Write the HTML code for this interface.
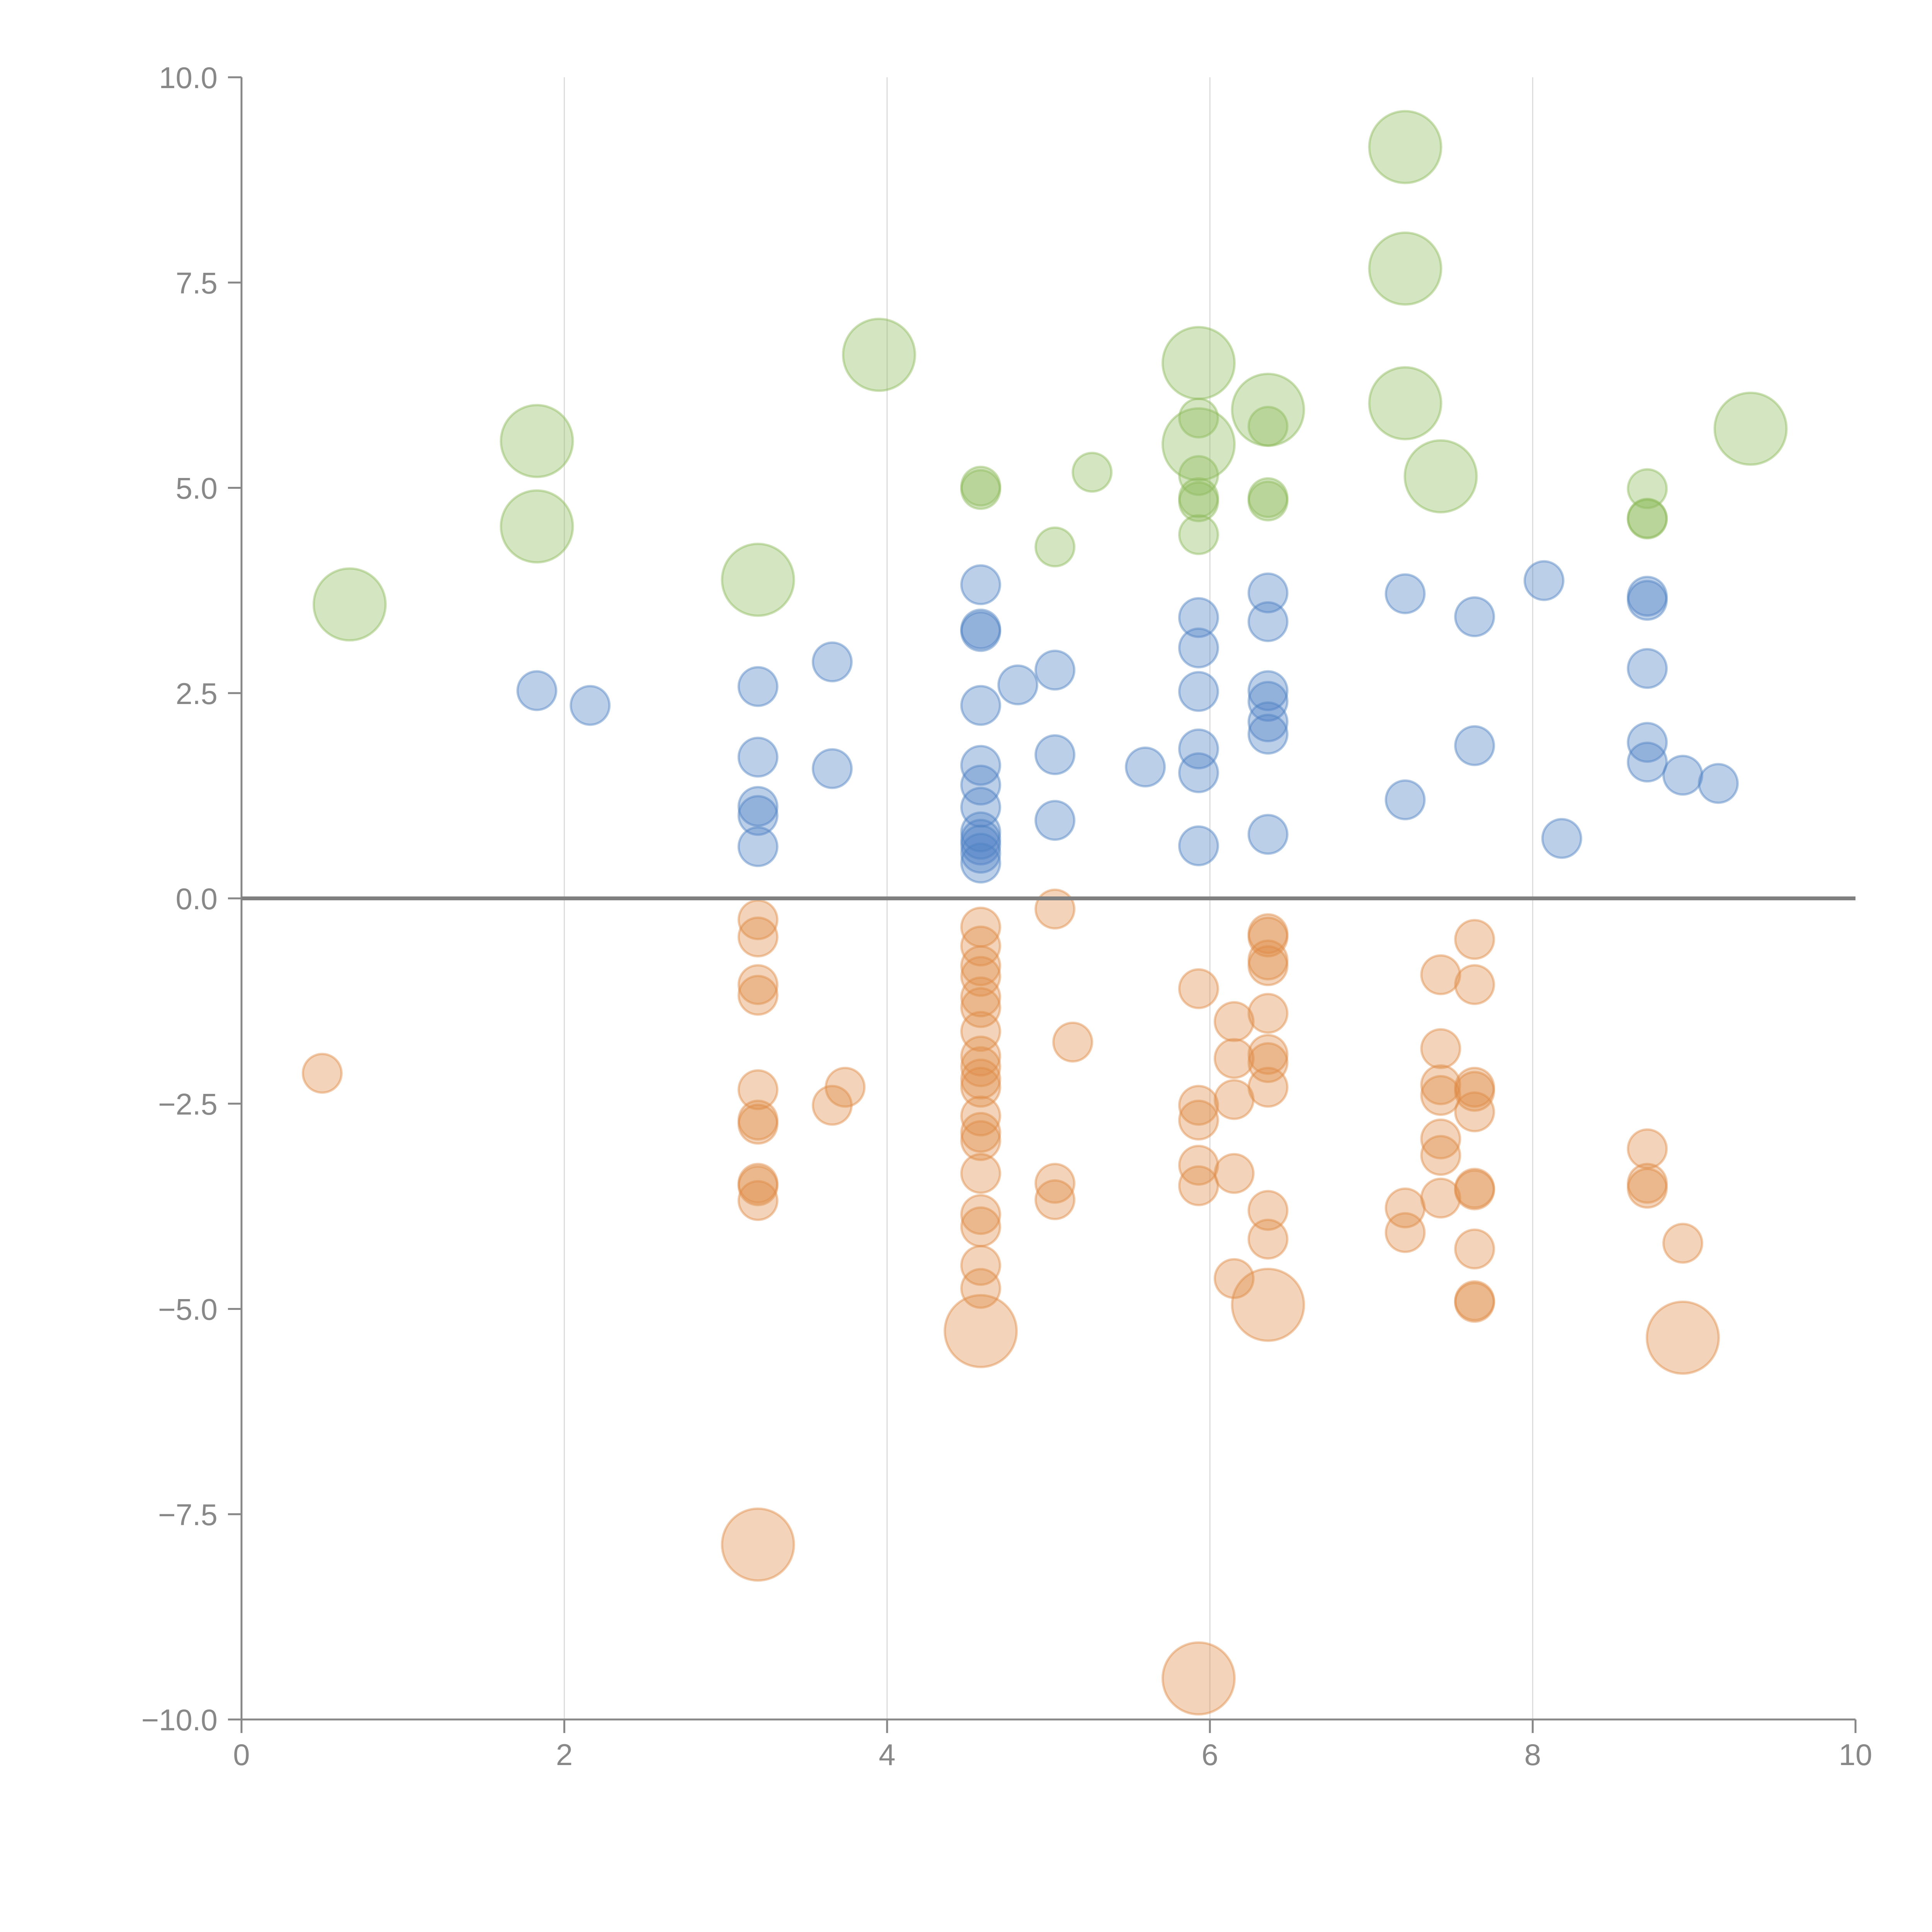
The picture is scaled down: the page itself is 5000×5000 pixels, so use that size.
<!DOCTYPE html>
<html><head><meta charset="utf-8"><style>
html,body{margin:0;padding:0;background:#fff;}
svg{display:block;}
text{font-family:"Liberation Sans",sans-serif;fill:#888;font-size:78px;}
</style></head><body>
<svg id="chart" width="5000" height="5000" viewBox="0 0 5000 5000" xmlns="http://www.w3.org/2000/svg">
<g id="grid"></g>
<g id="axes"></g>
<g id="marks"></g>
</svg>
<script>
const xTicks = [0, 2, 4, 6, 8, 10];
const yTicks = [10, 7.5, 5, 2.5, 0, -2.5, -5, -7.5, -10];
const yTickLabels = ["10.0", "7.5", "5.0", "2.5", "0.0", "\u22122.5", "\u22125.0", "\u22127.5", "\u221210.0"];

const greenX = [0.67,1.83,1.83,3.2,3.95,5.93,5.93,6.36,7.21,7.21,7.21,7.43,9.35, 4.58,4.58,5.04,5.27,5.93,5.93,5.93,5.93,5.93,6.36,6.36,6.36,8.71,8.71,8.71];
const greenY = [3.58,5.57,4.53,3.88,6.62,6.52,5.53,5.95,9.15,7.67,6.03,5.14,5.72, 5.02,4.98,4.28,5.19,5.85,5.15,4.88,4.83,4.43,5.75,4.88,4.84,4.99,4.63,4.62];
const greenSize = [2,2,2,2,2,2,2,2,2,2,2,2,2, 1,1,1,1,1,1,1,1,1,1,1,1,1,1,1];

const blueX = [1.83,2.16,3.2,3.2,3.2,3.2,3.2,3.66,3.66,4.58,4.58,4.58,4.58,4.58,4.58,4.58,4.58,4.58,4.58,4.58,4.58,4.81,5.04,5.04,5.04,5.6,5.93,5.93,5.93,5.93,5.93,5.93,6.36,6.36,6.36,6.36,6.36,6.36,6.36,7.21,7.21,7.64,7.64,8.07,8.18,8.71,8.71,8.71,8.71,8.71,8.93,9.15];
const blueY = [2.53,2.35,2.58,1.72,1.12,1.01,0.63,2.88,1.58,3.82,3.28,3.25,2.35,1.62,1.38,1.11,0.81,0.72,0.65,0.55,0.43,2.6,2.78,1.75,0.95,1.6,3.42,3.05,2.52,1.82,1.53,0.64,3.72,3.37,2.53,2.4,2.15,2.0,0.78,3.71,1.2,3.43,1.86,3.87,0.73,3.68,3.63,2.8,1.9,1.66,1.5,1.4];

const orangeX = [0.5,3.2,3.2,3.2,3.2,3.2,3.2,3.2,3.2,3.2,3.2,3.66,3.74,4.58,4.58,4.58,4.58,4.58,4.58,4.58,4.58,4.58,4.58,4.58,4.58,4.58,4.58,4.58,4.58,4.58,4.58,4.58,5.04,5.04,5.04,5.15,5.93,5.93,5.93,5.93,5.93,6.15,6.15,6.15,6.15,6.15,6.36,6.36,6.36,6.36,6.36,6.36,6.36,6.36,6.36,6.36,7.21,7.21,7.43,7.43,7.43,7.43,7.43,7.43,7.43,7.64,7.64,7.64,7.64,7.64,7.64,7.64,7.64,7.64,7.64,8.71,8.71,8.71,8.93, 3.2,4.58,5.93,6.36,8.93];
const orangeY = [-2.13,-0.26,-0.47,-1.05,-1.18,-2.33,-2.7,-2.75,-3.47,-3.5,-3.68,-2.52,-2.3,-0.35,-0.58,-0.82,-0.95,-1.2,-1.33,-1.62,-1.92,-2.05,-2.2,-2.3,-2.65,-2.85,-2.95,-3.35,-3.85,-4.0,-4.47,-4.75,-0.13,-3.47,-3.67,-1.75,-1.1,-2.52,-2.7,-3.25,-3.5,-1.5,-1.95,-2.45,-3.35,-4.63,-0.43,-0.47,-0.75,-0.82,-1.4,-1.9,-2.0,-2.3,-3.8,-4.15,-3.77,-4.07,-0.93,-1.83,-2.27,-2.4,-2.93,-3.13,-3.65,-0.5,-1.05,-2.3,-2.35,-2.6,-3.53,-3.55,-4.27,-4.9,-4.92,-3.05,-3.47,-3.53,-4.2, -7.87,-5.27,-9.5,-4.95,-5.35];
const orangeSize = orangeY.map((v, i) => i >= orangeY.length - 5 ? 2 : 1);

const X0 = 625, X1 = 4802, Y0 = 4450, Y1 = 200;
function sx(v){ return X0 + (v - 0) / 10 * (X1 - X0); }
function sy(v){ return Y0 - (v + 10) / 20 * (Y0 - Y1); }
function rad(s){ return s === 2 ? 93 : 50; }
const NS = "http://www.w3.org/2000/svg";
function mk(tag, attrs, parent){ const e = document.createElementNS(NS, tag); for (const k in attrs) e.setAttribute(k, attrs[k]); parent.appendChild(e); return e; }

const grid = document.getElementById('grid');
const axes = document.getElementById('axes');
const marks = document.getElementById('marks');

xTicks.forEach(t => {
  if (t > 0 && t < 10) {
    const g = mk('line', {x1: sx(t), x2: sx(t), y1: Y1, y2: Y0, stroke: '#dcdcdc', 'stroke-width': 3}, grid);
    
    
  }
  const tk = mk('line', {x1: sx(t), x2: sx(t), y1: Y0, y2: Y0 + 35, stroke: '#888', 'stroke-width': 5}, axes);
  
  
  const lb = mk('text', {x: sx(t), y: Y0 + 118, 'text-anchor': 'middle'}, axes);
  lb.textContent = String(t);
  
  
});
yTicks.forEach((t, i) => {
  const tk = mk('line', {x1: X0 - 35, x2: X0, y1: sy(t), y2: sy(t), stroke: '#888', 'stroke-width': 5}, axes);
  
  
  const lb = mk('text', {x: X0 - 62, y: sy(t) + 28, 'text-anchor': 'end'}, axes);
  lb.textContent = yTickLabels[i];
  
  
});
const ya = mk('line', {x1: X0, x2: X0, y1: Y1, y2: Y0, stroke: '#888', 'stroke-width': 5}, axes);


const xa = mk('line', {x1: X0, x2: X1, y1: Y0, y2: Y0, stroke: '#888', 'stroke-width': 5}, axes);



function series(xs, ys, sizes, color, name){
  xs.forEach((x, i) => {
    const s = sizes ? sizes[i] : 1;
    const c = mk('circle', {cx: sx(x), cy: sy(ys[i]), r: rad(s), fill: color, 'fill-opacity': 0.38, stroke: color, 'stroke-opacity': 0.45, 'stroke-width': 6}, marks);
    
    
  });
}
series(greenX, greenY, greenSize, '#8fba5c', 'green-bubble');
series(blueX, blueY, null, '#4f82c4', 'blue-bubble');
series(orangeX, orangeY, orangeSize, '#e08b48', 'orange-bubble');

const zl = mk('line', {x1: X0, x2: X1, y1: sy(0), y2: sy(0), stroke: '#808080', 'stroke-width': 10}, marks);


</script>
</body></html>
